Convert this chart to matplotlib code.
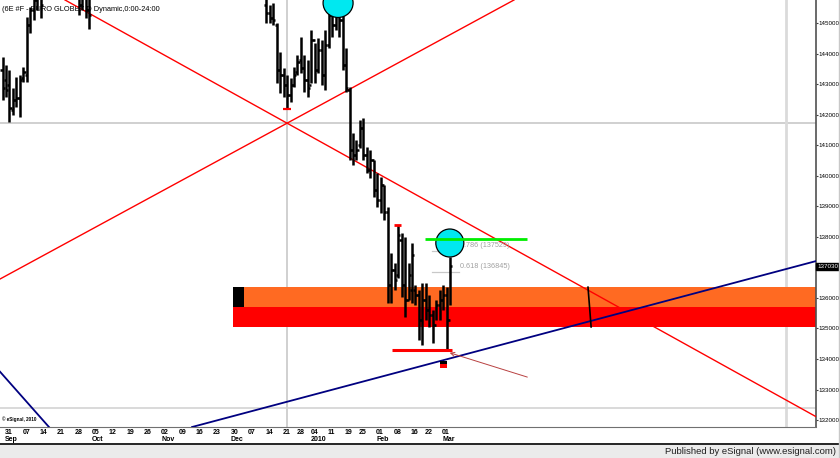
import matplotlib
matplotlib.use("Agg")
import matplotlib.pyplot as plt
import matplotlib.transforms as mtransforms
from matplotlib.patches import Rectangle, Ellipse
from matplotlib.collections import LineCollection
import pandas as pd
import numpy as np

plt.rcParams['font.family'] = ['Liberation Sans', 'DejaVu Sans']

# ---------------- data ----------------
title = "(6E #F - EURO GLOBEX,D Dynamic,0:00-24:00"
holidays = ["2009-12-25", "2010-01-01", "2010-01-18", "2010-02-15"]

bar_dates = ["2009-08-28", "2009-08-31", "2009-09-01", "2009-09-02", "2009-09-03", "2009-09-04",
             "2009-09-07", "2009-09-08", "2009-09-09", "2009-09-10", "2009-09-11", "2009-09-14",
             "2009-09-29", "2009-09-30", "2009-10-01", "2009-10-02",
             "2009-12-14", "2009-12-15", "2009-12-16", "2009-12-17", "2009-12-18",
             "2009-12-21", "2009-12-22", "2009-12-23", "2009-12-24", "2009-12-28",
             "2009-12-29", "2009-12-30", "2009-12-31", "2010-01-04", "2010-01-05",
             "2010-01-06", "2010-01-07", "2010-01-08", "2010-01-11", "2010-01-12",
             "2010-01-13", "2010-01-14", "2010-01-15", "2010-01-19", "2010-01-20",
             "2010-01-21", "2010-01-22", "2010-01-25", "2010-01-26", "2010-01-27",
             "2010-01-28", "2010-01-29", "2010-02-01", "2010-02-02", "2010-02-03",
             "2010-02-04", "2010-02-05", "2010-02-08", "2010-02-09", "2010-02-10",
             "2010-02-11", "2010-02-12", "2010-02-16", "2010-02-17", "2010-02-18",
             "2010-02-19", "2010-02-22", "2010-02-23", "2010-02-24", "2010-02-25",
             "2010-02-26", "2010-03-01", "2010-03-02", "2010-03-03"]
bar_open = [143460, 143130, 142970, 142150, 142480, 142540,
            143200, 143300, 144930, 145420, 145750, 145920,
            146080, 145590, 145920, 145420,
            145590, 145330, 145160, 144930, 143460,
            143300, 142970, 142640, 142970, 143390,
            143790, 143520, 143130, 142970, 144440,
            143460, 144110, 143300, 144280, 145260,
            144930, 145260, 145100, 143620, 142800,
            140840, 140680, 141000, 141560, 140680,
            140190, 140510, 139530, 139200, 139690,
            138810, 136420, 136910, 136750, 137890,
            136420, 135930, 136260, 136260, 136090,
            135270, 135930, 135600, 135440, 135110,
            135770, 135930, 136090, 135270]
bar_high = [143880, 143620, 143460, 142870, 143230, 143300,
            143560, 145200, 145520, 146080, 146240, 146240,
            146730, 146410, 146410, 146080,
            146080, 145590, 145650, 145000, 144050,
            143520, 143300, 143200, 143560, 143950,
            144540, 143950, 143790, 144770, 144340,
            144510, 144440, 144770, 145360, 145650,
            145750, 145850, 145520, 144180, 142900,
            141400, 141170, 141820, 141890, 140940,
            140840, 140510, 140090, 139960, 139690,
            138970, 137470, 137140, 138380, 138120,
            137990, 137140, 137800, 136420, 136260,
            136480, 136480, 136090, 135600, 135930,
            136260, 136420, 136350, 137340]
bar_low = [142480, 142580, 141760, 141980, 142250, 141920,
           143070, 143070, 144670, 145100, 145420, 145160,
           145260, 145420, 145160, 144800,
           145000, 145000, 144930, 143030, 142710,
           142580, 142180, 142410, 142900, 143300,
           143360, 142740, 142580, 143030, 143030,
           143360, 142970, 142800, 144180, 144540,
           144770, 144540, 143460, 142740, 140510,
           140350, 140510, 140910, 140510, 140090,
           139920, 139300, 138970, 138780, 138550,
           135830, 135830, 136260, 136650, 136030,
           135370, 135930, 135830, 135770, 134620,
           134460, 135270, 135040, 134520, 135270,
           135270, 135600, 134290, 135770]
bar_close = [142870, 142800, 142210, 142480, 142540, 143130,
             143390, 144930, 145420, 145750, 145920, 145590,
             145590, 145920, 145420, 145260,
             145330, 145160, 145100, 143460, 143300,
             142970, 142640, 142970, 143300, 143720,
             143520, 143130, 142870, 144440, 143460,
             144110, 143300, 144280, 145260, 144930,
             145260, 145100, 143620, 142870, 140840,
             140680, 140840, 141560, 140680, 140190,
             140510, 139530, 139200, 139690, 138810,
             136420, 136910, 136580, 138060, 136420,
             135930, 136750, 137400, 136090, 135270,
             135930, 135600, 135440, 135110, 135770,
             135930, 136090, 135270, 137030]

last_price = 137030
y_ticks = [132000, 133000, 134000, 135000, 136000, 138000, 139000, 140000,
           141000, 142000, 143000, 144000, 145000]
month_labels = {"2009-08-31": "Sep", "2009-10-05": "Oct", "2009-11-02": "Nov",
                "2009-11-30": "Dec", "2010-01-04": "2010", "2010-02-01": "Feb",
                "2010-03-01": "Mar"}

# trendlines: (date, price) anchors
red_down = [("2009-09-28", 145565), ("2009-12-22", 141720)]
red_up = [("2009-09-01", 136786), ("2009-12-22", 141720)]
blue_up = [("2009-12-22", 132600), ("2010-03-03", 134020)]
blue_short = [("2009-08-28", 133490), ("2009-09-15", 131950)]

zone_start = "2009-11-30"
zone_orange = (135700, 136350)
zone_red = (135050, 135700)
fib_levels = [("0.786", 137529), ("0.618", 136845)]
green_level = 137930
low_level = 134290
high_mark = 138380
dec_low_mark = 142180
cross_price = 141720
cross_date = "2009-12-22"
cross2_price = 132380

# ---------------- calendar ----------------
cal = pd.bdate_range("2009-08-28", "2011-01-31")
cal = cal[~cal.isin(pd.to_datetime(holidays))]
base = cal.get_loc(pd.Timestamp("2009-08-31"))
def X(d):
    return cal.get_loc(pd.Timestamp(d)) - base

# ---------------- figure ----------------
W, H = 840, 458
fig = plt.figure(figsize=(W / 100, H / 100), dpi=100)
fig.patch.set_facecolor("white")
ax = fig.add_axes([0, 1 - 427 / H, 816 / W, 427 / H])
ppd = 3.47
xmin = -6 / ppd
xmax = (816 - 6) / ppd
ax.set_xlim(xmin, xmax)
ymax = 145753
ymin = 145753 - 32.74 * 427
ax.set_ylim(ymin, ymax)

for s in ["left", "top"]:
    ax.spines[s].set_visible(False)
ax.spines["right"].set_color("#505050")
ax.spines["right"].set_linewidth(1.2)
ax.spines["bottom"].set_color("#707070")
ax.spines["bottom"].set_linewidth(0.8)
ax.set_xticks([])
ax.yaxis.tick_right()
ax.set_yticks(y_ticks)
ax.set_yticklabels([str(v) for v in y_ticks])
ax.tick_params(axis="y", length=1.5, width=0.8, colors="#404040", labelsize=4.5,
               labelcolor="black", pad=0.3)

# grid-ish crosshair lines
gray = "#C4C4C4"
ax.axvline(X(cross_date), color=gray, lw=1.1, zorder=1)
ax.axhline(cross_price, color=gray, lw=1.1, zorder=1)
ax.axvline((786 - 6) / ppd, color="#DADADA", lw=2.0, zorder=1)
ax.axhline(cross2_price, color="#D0D0D0", lw=1.1, zorder=1)

# zones
x0 = X(zone_start) + 0.4
ax.add_patch(Rectangle((x0, zone_orange[0]), xmax - x0, zone_orange[1] - zone_orange[0],
                       facecolor="#FF6A22", edgecolor="none", zorder=2))
ax.add_patch(Rectangle((x0, zone_red[0]), xmax - x0, zone_red[1] - zone_red[0],
                       facecolor="#FF0000", edgecolor="none", zorder=2))
ax.add_patch(Rectangle((x0, zone_orange[0]), 3.2, zone_orange[1] - zone_orange[0],
                       facecolor="black", edgecolor="none", zorder=3))

# trendlines
def axl(pts, **kw):
    (d1, p1), (d2, p2) = pts
    ax.axline((X(d1), p1), (X(d2), p2), **kw)
axl(red_down, color="#FF0000", lw=1.0, zorder=4)
axl(red_up, color="#FF0000", lw=1.0, zorder=4)
axl(blue_up, color="#000080", lw=1.3, zorder=4)
axl(blue_short, color="#000080", lw=1.3, zorder=4)

# vertical black marker in the zone
vx = (588 - 6) / ppd
ax.plot([vx, vx + 0.9], [zone_orange[1], zone_red[0]], color="black", lw=1.2, zorder=5)

# title & copyright
ax.text(0.003, 0.985, title, transform=ax.transAxes, fontsize=5.3, va="top",
        ha="left", color="black", zorder=1)
ax.text(0.002, 0.012, "© eSignal, 2010", transform=ax.transAxes, fontsize=3.3,
        va="bottom", ha="left", color="black", fontweight="bold", zorder=1)

# OHLC bars
xs = np.array([X(d) for d in bar_dates], dtype=float)
segs = []
tick = 0.62
for x, o, h, l, c in zip(xs, bar_open, bar_high, bar_low, bar_close):
    segs.append([(x, l), (x, h)])
    segs.append([(x - tick, o), (x, o)])
    segs.append([(x, c), (x + tick, c)])
ax.add_collection(LineCollection(segs, colors="black", linewidths=1.8,
                                 capstyle="butt", zorder=6))

# red markers
ax.plot([X("2009-12-21") - 0.1, X("2009-12-23") + 0.1], [dec_low_mark] * 2,
        color="#FF0000", lw=1.6, zorder=7, solid_capstyle="butt")
ax.plot([X("2010-02-08") - 0.2, X("2010-02-09") + 0.7], [high_mark] * 2,
        color="#FF0000", lw=2.0, zorder=7, solid_capstyle="butt")
ax.plot([X("2010-02-05") + 0.2, X("2010-03-03") + 0.6], [low_level] * 2,
        color="#FF0000", lw=2.2, zorder=7, solid_capstyle="butt")

# fib levels
for name, lvl in fib_levels:
    ax.plot([X("2010-02-24") - 0.2, X("2010-03-05") + 0.5], [lvl, lvl], color="#C8C8C8",
            lw=0.9, zorder=5)
    ax.text(X("2010-03-05") + 0.8, lvl + 60, f"{name} ({lvl})", fontsize=5.2,
            color="#A0A0A0", va="bottom", ha="left", zorder=8)

# circles
ax.add_patch(Ellipse((X("2010-03-03") - 0.1, 137797), 28 / ppd, 28 * 32.74,
                     facecolor="#00E8F0", edgecolor="black", lw=0.9, zorder=8))
ax.add_patch(Ellipse((X("2010-01-14") - 0.3, 145655), 30 / ppd, 29 * 32.74,
                     facecolor="#00E8F0", edgecolor="black", lw=0.9, zorder=8,
                     clip_on=True))

# green line
ax.plot([X("2010-02-22") - 0.3, X("2010-04-02")], [green_level] * 2, color="#00EE00",
        lw=2.0, zorder=9, solid_capstyle="butt")

# small box marker
bx = X("2010-03-01") - 0.9
ax.add_patch(Rectangle((bx, 133830), 2.0, 100, facecolor="black", edgecolor="none", zorder=9))
ax.add_patch(Rectangle((bx, 133700), 2.0, 130, facecolor="#FF0000", edgecolor="none", zorder=9))

# arrow
ax.annotate("", xy=(X("2010-03-02") + 0.1, 134230), xytext=(X("2010-04-05"), 133380),
            arrowprops=dict(arrowstyle="->", color="#B84040", lw=0.7,
                            mutation_scale=7), zorder=9)

# last price box
trans_ay = mtransforms.blended_transform_factory(ax.transAxes, ax.transData)
ax.text(1.0015, last_price, str(last_price), transform=trans_ay, fontsize=4.5,
        color="white", va="center", ha="left", zorder=10,
        bbox=dict(boxstyle="square,pad=0.12", facecolor="black", edgecolor="black"))

# date labels
trans_xa = mtransforms.blended_transform_factory(ax.transData, ax.transAxes)
wk = pd.Series(cal[(cal >= "2009-08-31") & (cal <= "2010-03-05")])
firsts = wk.groupby(wk.dt.to_period("W")).min()
for d in firsts:
    xi = X(d)
    ax.text(xi - 0.3, -5 / 427, d.strftime("%d"), transform=trans_xa, fontsize=5.0,
            fontweight="bold", va="center", ha="left", clip_on=False)
    key = d.strftime("%Y-%m-%d")
    if key in month_labels:
        ax.text(xi - 0.3, -12.5 / 427, month_labels[key], transform=trans_xa,
                fontsize=5.0, fontweight="bold", va="center", ha="left", clip_on=False)

# footer
fig.patches.append(Rectangle((0, 0), 1, 13 / H, transform=fig.transFigure,
                             facecolor="#EBEBEB", edgecolor="none", zorder=0))
fig.lines.append(plt.Line2D([0, 1], [1 - 444 / H] * 2, transform=fig.transFigure,
                            color="black", lw=1.2))
fig.lines.append(plt.Line2D([838.5 / W] * 2, [0, 1], transform=fig.transFigure,
                            color="#C8C8C8", lw=1.0))
fig.text(836 / W, 1 - 451 / H, "Published by eSignal (www.esignal.com)", fontsize=6.8,
         ha="right", va="center", color="#202020")

fig.savefig("out.png", dpi=100)
